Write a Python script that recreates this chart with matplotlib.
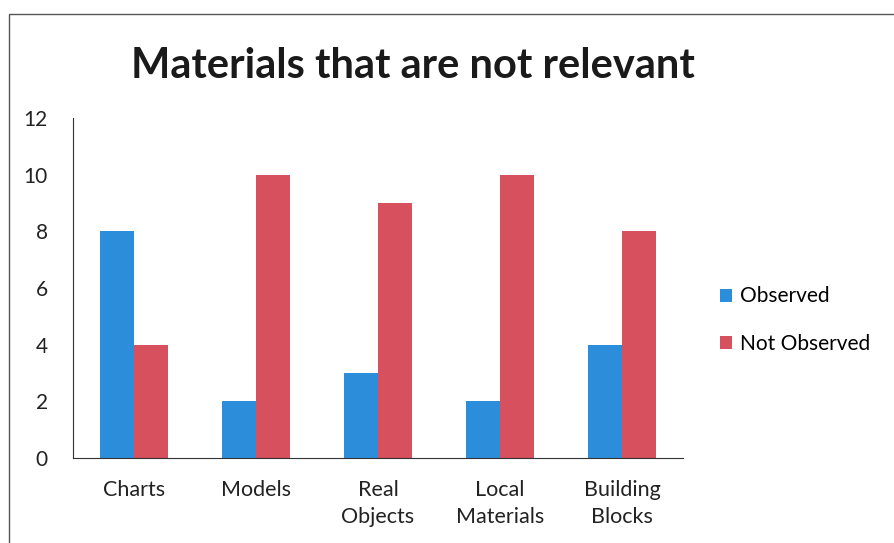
import matplotlib.pyplot as plt
import numpy as np
from matplotlib.patches import Rectangle

categories = ["Charts", "Models", "Real\nObjects", "Local\nMaterials", "Building\nBlocks"]
observed = [8, 2, 3, 2, 4]
not_observed = [4, 10, 9, 10, 8]
yticks = [0, 2, 4, 6, 8, 10, 12]

blue = "#2C8EDB"
red = "#D6505E"

plt.rcParams["font.family"] = ["Lato", "DejaVu Sans"]

fig = plt.figure(figsize=(8.94, 5.43), dpi=100)
ax = fig.add_axes([73 / 894, 1 - 458 / 543, 610 / 894, 340 / 543])

x = np.arange(len(categories))
w = 0.28
ax.bar(x - w / 2, observed, w, color=blue, label="Observed")
ax.bar(x + w / 2, not_observed, w, color=red, label="Not Observed")

ax.set_xlim(-0.5, len(categories) - 0.5)
ax.set_ylim(0, 12)
ax.set_yticks(yticks)
ax.set_xticks(x)
ax.set_xticklabels(categories, fontsize=15.5, color="#222222", linespacing=1.45)
ax.tick_params(axis="both", length=0, colors="#222222")
ax.tick_params(axis="y", pad=18, labelsize=15)
ax.tick_params(axis="x", pad=16)

ax.spines["top"].set_visible(False)
ax.spines["right"].set_visible(False)
ax.spines["left"].set_color("#333333")
ax.spines["bottom"].set_color("#333333")

fig.text(413 / 894, 1 - 66 / 543, "Materials that are not relevant",
         ha="center", va="center", fontsize=30, fontweight="bold", color="#1a1a1a")

fig.legend(loc="center left", bbox_to_anchor=(701 / 894, 1 - 320 / 543),
           frameon=False, fontsize=15, handlelength=0.6, handleheight=0.6,
           handletextpad=0.35, labelspacing=1.3)

# thin frame around the chart area
fig.patches.append(Rectangle((9 / 894, -0.05), 1.2, 1 - 14 / 543 + 0.05,
                             transform=fig.transFigure, fill=False,
                             edgecolor="#555555", linewidth=1))

fig.savefig("out.png", dpi=100)
